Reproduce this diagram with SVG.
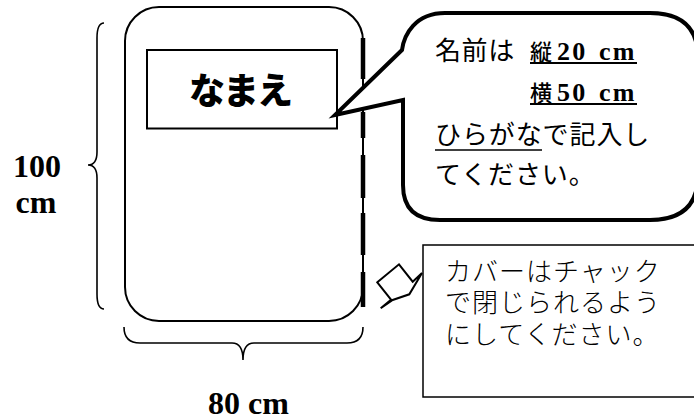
<svg xmlns="http://www.w3.org/2000/svg" width="694" height="419" viewBox="0 0 694 419">
<style>
.ln{fill:none;stroke:#000;stroke-linecap:butt}
.serif{font-family:"Liberation Serif","Times New Roman",serif;fill:#000}
.goth{font-family:"Noto Sans CJK JP","Noto Sans",sans-serif;fill:#000}
.dim{font-size:32px;font-weight:bold}
.sz{font-size:26px;font-weight:bold;letter-spacing:2.2px;word-spacing:3px}
.kj{font-size:22px;font-weight:500}
</style>
<rect width="694" height="419" fill="#fff"/>
<g id="cover">
  <rect x="125" y="7" width="238" height="314" rx="34" ry="34" fill="#fff" stroke="#000" stroke-width="2"/>
  <path class="ln" stroke-width="4.5" d="M363,38V79M363,112V138M363,155V198M363,213V255M363,272V307"/>
</g>
<g id="name-box">
  <rect x="147" y="50" width="190" height="78.5" fill="#fff" stroke="#000" stroke-width="2"/>
  <text class="goth" x="240" y="104" font-size="36" font-weight="900" letter-spacing="-2" text-anchor="middle">なまえ</text>
</g>
<g id="name-bubble">
  <path d="M403,100 L403,185 Q403,220 440,220 L650,220 Q698,220 698,175 L698,58 Q698,13 650,13 L445,13 C415,13 404,35 402,50 L335,115 Z" fill="#fff" stroke="#000" stroke-width="4" stroke-linejoin="miter"/>
  <text class="goth" x="435" y="60" font-size="26" letter-spacing="0.6">名前は</text>
  <text class="goth kj" x="530" y="60">縦</text>
  <text class="serif sz" x="557" y="60">20 cm</text>
  <text class="goth kj" x="530" y="101">横</text>
  <text class="serif sz" x="557" y="101">50 cm</text>
  <text class="goth" x="435" y="144" font-size="26" letter-spacing="0.9">ひらがなで記入し</text>
  <text class="goth" x="435" y="184" font-size="26" letter-spacing="0.9">てください。</text>
  <path class="ln" stroke-width="2" d="M530,63H637M530,104H637"/>
  <path class="ln" stroke-width="1.5" d="M435,150H542"/>
</g>
<g id="zip-note">
  <polygon points="377.3,282.3 399,264.3 412.7,281.7 422,273 409.3,294.3 392.7,300 380.7,308.3 391,299.7" fill="#fff" stroke="#000" stroke-width="2"/>
  <rect x="423" y="245" width="280" height="152" fill="#fff" stroke="#000" stroke-width="1.5"/>
  <text class="goth" x="445" y="281" font-size="26" font-weight="300" letter-spacing="1">カバーはチャック</text>
  <text class="goth" x="445" y="312" font-size="26" font-weight="300" letter-spacing="1">で閉じられるよう</text>
  <text class="goth" x="445" y="344" font-size="26" font-weight="300" letter-spacing="1">にしてください。</text>
</g>
<g id="connectors">
  <path class="ln" stroke-width="1.6" d="M104,23 Q97,23 97,38 L97,152 Q97,165 88,165 Q97,165 97,178 L97,294 Q97,309 104,309"/>
  <path class="ln" stroke-width="1.6" d="M124,327 Q124,343 140,343 L232,343 Q243,343 243,360 Q243,343 254,343 L347,343 Q363,343 363,327"/>
</g>
<g id="labels">
  <text class="serif dim" x="37" y="177" text-anchor="middle">100</text>
  <text class="serif dim" x="36" y="213" text-anchor="middle">cm</text>
  <text class="serif dim" x="248.5" y="414" text-anchor="middle">80 cm</text>
</g>
</svg>
